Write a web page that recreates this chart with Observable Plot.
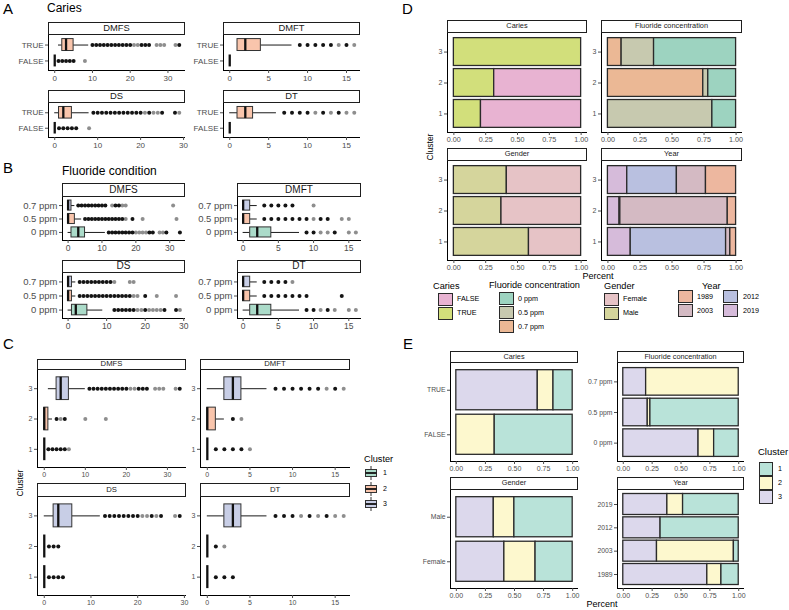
<!DOCTYPE html>
<html><head><meta charset="utf-8">
<script src="https://cdn.jsdelivr.net/npm/d3@7"></script>
<script src="https://cdn.jsdelivr.net/npm/@observablehq/plot@0.6"></script>
<style>
body{margin:0;background:#fff;}
#fig{position:relative;width:789px;height:610px;overflow:hidden;background:#fff;font-family:"Liberation Sans",Arial,Helvetica,sans-serif;}
.strip{position:absolute;box-sizing:border-box;border:1.3px solid #1e1e1e;background:#fff;text-align:center;color:#1a1a1a;white-space:nowrap;}
.key{position:absolute;box-sizing:border-box;border:1.5px solid #2a2a2a;}
</style></head><body><div id="fig"></div>
<script>
// ---------------- DATA ----------------
const vars = ["DMFS", "DMFT", "DS", "DT"];
const varMax = [33, 16, 29, 16];
const varTicks = [[0, 10, 20, 30], [0, 5, 10, 15], [0, 10, 20, 30], [0, 5, 10, 15]];

// Panel A : caries (levels bottom -> top)
const cariesLevels = ["FALSE", "TRUE"];
// [variable, level, lower whisker, q1, median, q3, upper whisker]
const cariesBox = [
  ["DMFS", "TRUE", 1, 2, 3, 5, 9], ["DMFS", "FALSE", 0, 0, 0, 0, 0],
  ["DMFT", "TRUE", 1, 1, 2, 4, 8], ["DMFT", "FALSE", 0, 0, 0, 0, 0],
  ["DS", "TRUE", 0, 1, 2, 4, 8], ["DS", "FALSE", 0, 0, 0, 0, 0],
  ["DT", "TRUE", 0, 1, 2, 3, 6], ["DT", "FALSE", 0, 0, 0, 0, 0]
];
const cariesOutDark = [
  ["DMFS", "TRUE", [10, 11, 12, 13, 14, 15, 16, 17, 18, 19, 20, 23, 24, 25, 33]],
  ["DMFS", "FALSE", [1, 2, 3, 4, 5]],
  ["DMFT", "TRUE", [9, 10, 11, 12, 13, 15]],
  ["DS", "TRUE", [9, 10, 11, 12, 13, 14, 15, 16, 17, 18, 19, 20, 22, 25, 28]],
  ["DS", "FALSE", [1, 2, 3, 4, 5]],
  ["DT", "TRUE", [7, 8, 9, 10, 12, 14]]
];
const cariesOutLight = [
  ["DMFS", "TRUE", [21, 22, 27, 28, 29, 32]],
  ["DMFS", "FALSE", [8]],
  ["DMFT", "TRUE", [14, 16]],
  ["DS", "TRUE", [21, 23, 24, 29]],
  ["DS", "FALSE", [8]],
  ["DT", "TRUE", [11, 13, 15, 16]]
];

// Panel B : fluoride condition
const fluorLevels = ["0 ppm", "0.5 ppm", "0.7 ppm"];
const fluorBox = [
  ["DMFS", "0.7 ppm", 0, 0, 0, 1, 2], ["DMFS", "0.5 ppm", 0, 0, 0, 2, 4], ["DMFS", "0 ppm", 0, 1, 3, 5, 11],
  ["DMFT", "0.7 ppm", 0, 0, 0, 1, 2], ["DMFT", "0.5 ppm", 0, 0, 0, 1, 2], ["DMFT", "0 ppm", 0, 1, 2, 4, 8],
  ["DS", "0.7 ppm", 0, 0, 0, 1, 2], ["DS", "0.5 ppm", 0, 0, 0, 1, 2], ["DS", "0 ppm", 0, 1, 2, 5, 9],
  ["DT", "0.7 ppm", 0, 0, 0, 1, 2], ["DT", "0.5 ppm", 0, 0, 0, 1, 2], ["DT", "0 ppm", 0, 1, 2, 4, 8]
];
const fluorOutDark = [
  ["DMFS", "0.7 ppm", [3, 4, 5, 6, 7, 8, 9, 10, 11, 14, 15]],
  ["DMFS", "0.5 ppm", [5, 6, 7, 8, 9, 10, 11, 12, 13, 14, 15, 16, 19]],
  ["DMFS", "0 ppm", [12, 13, 14, 15, 16, 17, 18, 19, 24, 25, 29, 33]],
  ["DMFT", "0.7 ppm", [3, 4, 5, 6, 7]],
  ["DMFT", "0.5 ppm", [3, 4, 5, 6, 7, 8, 9, 11, 12]],
  ["DMFT", "0 ppm", [9, 10, 13]],
  ["DS", "0.7 ppm", [3, 4, 5, 6, 7, 8, 9, 10, 11]],
  ["DS", "0.5 ppm", [3, 4, 5, 6, 7, 8, 9, 10, 11, 12, 13, 14, 15, 16, 20]],
  ["DS", "0 ppm", [12, 13, 14, 15, 16, 17, 20, 25, 28]],
  ["DT", "0.7 ppm", [3, 4, 5, 6]],
  ["DT", "0.5 ppm", [3, 4, 5, 6, 7, 8, 9, 14]],
  ["DT", "0 ppm", [9, 10, 12]]
];
const fluorOutLight = [
  ["DMFS", "0.7 ppm", [13, 16, 17, 31]],
  ["DMFS", "0.5 ppm", [17, 22, 32]],
  ["DMFS", "0 ppm", [20, 21, 22, 23, 27, 28]],
  ["DMFT", "0.7 ppm", [10]],
  ["DMFT", "0.5 ppm", [10, 14, 15]],
  ["DMFT", "0 ppm", [11, 12, 15, 16]],
  ["DS", "0.7 ppm", [12, 16, 17]],
  ["DS", "0.5 ppm", [17, 18, 23, 28]],
  ["DS", "0 ppm", [18, 19, 21, 22, 23, 24, 29]],
  ["DT", "0.7 ppm", [7]],
  ["DT", "0 ppm", [11, 13, 15, 16]]
];

// Panel C : clusters
const clusterLevels = ["1", "2", "3"];
const clusterBox = [
  ["DMFS", "3", 1, 3, 4, 6, 10], ["DMFS", "2", 0, 0, 0, 1, 2], ["DMFS", "1", 0, 0, 0, 0, 0],
  ["DMFT", "3", 0, 2, 3, 4, 7], ["DMFT", "2", 0, 0, 0, 1, 2], ["DMFT", "1", 0, 0, 0, 0, 0],
  ["DS", "3", 0, 2, 3, 6, 12], ["DS", "2", 0, 0, 0, 0, 0], ["DS", "1", 0, 0, 0, 0, 0],
  ["DT", "3", 0, 2, 3, 4, 7], ["DT", "2", 0, 0, 0, 0, 0], ["DT", "1", 0, 0, 0, 0, 0]
];
const clusterOutDark = [
  ["DMFS", "3", [11, 12, 13, 14, 15, 16, 17, 18, 19, 20, 23, 24, 25, 33]],
  ["DMFS", "2", [3, 5]],
  ["DMFS", "1", [1, 2, 3, 4, 5]],
  ["DMFT", "3", [8, 9, 10, 11, 12, 13, 15]],
  ["DMFT", "2", [3]],
  ["DMFT", "1", [1, 2, 3, 4]],
  ["DS", "3", [13, 14, 15, 16, 17, 18, 19, 20, 23, 25, 29]],
  ["DS", "2", [1, 2, 3]],
  ["DS", "1", [1, 2, 3, 4]],
  ["DT", "3", [8, 9, 10, 12, 14]],
  ["DT", "2", [1]],
  ["DT", "1", [1, 2, 3]]
];
const clusterOutLight = [
  ["DMFS", "3", [21, 22, 27, 28, 29, 32]],
  ["DMFS", "2", [4, 10, 15]],
  ["DMFS", "1", [6]],
  ["DMFT", "3", [14, 16]],
  ["DMFT", "2", [4]],
  ["DMFT", "1", [5]],
  ["DS", "3", [21, 22, 24, 28]],
  ["DT", "3", [11, 13, 15, 16]],
  ["DT", "2", [2]]
];

// Panel D : composition of each cluster (rows = clusters 1,2,3; shares left -> right)
const dCariesOrder = ["TRUE", "FALSE"];
const dCariesShare = [[0.213, 0.787], [0.317, 0.683], [1.0, 0.0]];
const dFluorOrder = ["0.7 ppm", "0.5 ppm", "0 ppm"];
const dFluorShare = [[0.0, 0.815, 0.185], [0.744, 0.039, 0.217], [0.107, 0.253, 0.640]];
const dGenderOrder = ["Male", "Female"];
const dGenderShare = [[0.590, 0.410], [0.374, 0.626], [0.416, 0.584]];
const dYearOrder = ["2019", "2012", "2003", "1989"];
const dYearShare = [[0.178, 0.744, 0.033, 0.045], [0.091, 0.006, 0.838, 0.065], [0.151, 0.387, 0.227, 0.235]];

// Panel E : cluster share within each group (shares for clusters 3, 2, 1 left -> right)
const eClusterOrder = ["3", "2", "1"];
const eCariesLevels = ["FALSE", "TRUE"];
const eCariesShare = [[0.0, 0.330, 0.670], [0.700, 0.135, 0.165]];
const eFluorLevels = ["0 ppm", "0.5 ppm", "0.7 ppm"];
const eFluorShare = [[0.652, 0.135, 0.213], [0.212, 0.023, 0.765], [0.198, 0.802, 0.0]];
const eGenderLevels = ["Female", "Male"];
const eGenderShare = [[0.413, 0.268, 0.319], [0.322, 0.177, 0.501]];
const eYearLevels = ["1989", "2003", "2012", "2019"];
const eYearShare = [[0.728, 0.122, 0.150], [0.292, 0.666, 0.042], [0.323, 0.0, 0.677], [0.382, 0.136, 0.482]];

// ---------------- STYLE ----------------
const FONT = '"Liberation Sans", Arial, Helvetica, sans-serif';
const boxFill3 = ["#ABDBC9", "#F9C5AC", "#C8CEE6"];
const cariesColors = {FALSE: "#E8B3D2", TRUE: "#D2DF7B"};
const fluorColors = {"0 ppm": "#9DD3C0", "0.5 ppm": "#C7C9AF", "0.7 ppm": "#EBB895"};
const genderColors = {Female: "#E6C3C6", Male: "#D5D59C"};
const yearColors = {"1989": "#EDB79F", "2003": "#D4BAC3", "2012": "#B9C0E0", "2019": "#D6BBDA"};
const clusterColors = {"1": "#B9E3D9", "2": "#FDF8CE", "3": "#DCD8EC"};

const fig = document.getElementById("fig");
function place(el, left, top) {
  el.style.position = "absolute"; el.style.left = left + "px"; el.style.top = top + "px";
  fig.appendChild(el);
}
function txt(s, x, y, size, anchor = "start", rotate = 0, color = "#000") {
  const d = document.createElement("div");
  d.textContent = s;
  const tx = anchor === "start" ? 0 : anchor === "middle" ? -50 : -100;
  Object.assign(d.style, {position: "absolute", left: x + "px", top: y + "px", fontSize: size + "px",
    lineHeight: "1.15", whiteSpace: "nowrap", color,
    transform: `translate(${tx}%, -50%)` + (rotate ? ` rotate(${rotate}deg)` : "")});
  if (rotate) d.style.transformOrigin = "50% 50%";
  fig.appendChild(d);
}
function strip(s, x0, x1, y0, y1, fs) {
  const d = document.createElement("div");
  d.className = "strip"; d.textContent = s;
  Object.assign(d.style, {left: x0 + "px", top: y0 + "px", width: (x1 - x0) + "px", height: (y1 - y0) + "px",
    fontSize: fs + "px", lineHeight: (y1 - y0 - 2.6) + "px"});
  fig.appendChild(d);
}

const ML = 60, MR = 8, MT = 6, MB = 26;

function expandOut(list, v, shade, levels) {
  const rows = [];
  for (const [vv, g, vals] of list) if (vv === v) for (const x of vals) rows.push({g, i: levels.indexOf(g) + 1, x, shade});
  return rows;
}

function boxFacet(v, levels, boxes, dark, light, fillOf, [x0, x1], [y0, y1], fx, fy) {
  const vi = vars.indexOf(v), max = varMax[vi], n = levels.length;
  const rows = boxes.filter(d => d[0] === v).map(([vv, g, lo, q1, med, q3, hi]) =>
    ({g, i: levels.indexOf(g) + 1, lo, q1, med, q3, hi}));
  const pts = [...expandOut(light, v, "light", levels), ...expandOut(dark, v, "dark", levels)];
  const xmin = -0.05 * max;
  const svg = Plot.plot({
    width: x1 - x0 + ML + MR, height: y1 - y0 + MT + MB,
    marginLeft: ML, marginRight: MR, marginTop: MT, marginBottom: MB,
    style: {background: "transparent", fontFamily: FONT, overflow: "visible"},
    x: {domain: [xmin, 1.05 * max]},
    y: {domain: [0.4, n + 0.6]},
    color: {type: "identity"},
    marks: [
      Plot.ruleY(rows, {y: "i", x1: "lo", x2: "q1", stroke: "#1a1a1a", strokeWidth: 1}),
      Plot.ruleY(rows, {y: "i", x1: "q3", x2: "hi", stroke: "#1a1a1a", strokeWidth: 1}),
      Plot.dot(pts, {x: "x", y: "i", r: 2, fill: d => d.shade === "dark" ? "#141414" : "#8e8e8e"}),
      Plot.rect(rows, {x1: "q1", x2: "q3", y1: d => d.i - 0.375, y2: d => d.i + 0.375,
        fill: d => fillOf(d.g), stroke: "#333", strokeWidth: 1}),
      Plot.ruleX(rows, {x: "med", y1: d => d.i - 0.375, y2: d => d.i + 0.375, stroke: "#111", strokeWidth: 2.3}),
      Plot.ruleX([xmin], {stroke: "#000"}),
      Plot.ruleY([0.4], {stroke: "#000"}),
      Plot.axisX(varTicks[vi], {tickSize: 3, tickPadding: 1.5, fontSize: fx, color: "#4d4d4d", label: null}),
      Plot.axisY(d3.range(1, n + 1), {tickSize: 3, tickPadding: 2, fontSize: fy, color: "#4d4d4d",
        tickFormat: i => levels[i - 1], label: null})
    ]
  });
  place(svg, x0 - ML, y0 - MT);
}

function barFacet(levels, order, shares, colorOf, [x0, x1], [y0, y1], fx, fy) {
  const rows = [];
  levels.forEach((lev, k) => {
    const tot = d3.sum(shares[k]);
    let acc = 0;
    order.forEach((key, j) => {
      const s = shares[k][j];
      if (s > 0) rows.push({i: k + 1, key, x1: acc / tot, x2: (acc + s) / tot});
      acc += s;
    });
  });
  const n = levels.length;
  const svg = Plot.plot({
    width: x1 - x0 + ML + MR, height: y1 - y0 + MT + MB,
    marginLeft: ML, marginRight: MR, marginTop: MT, marginBottom: MB,
    style: {background: "transparent", fontFamily: FONT, overflow: "visible"},
    x: {domain: [-0.05, 1.05]},
    y: {domain: [0.4, n + 0.6]},
    color: {type: "identity"},
    marks: [
      Plot.rect(rows, {x1: "x1", x2: "x2", y1: d => d.i - 0.45, y2: d => d.i + 0.45,
        fill: d => colorOf[d.key], stroke: "#2a2a2a", strokeWidth: 1.3}),
      Plot.ruleX([-0.05], {stroke: "#000"}),
      Plot.ruleY([0.4], {stroke: "#000"}),
      Plot.axisX([0, 0.25, 0.5, 0.75, 1], {tickFormat: d3.format(".2f"), tickSize: 3, tickPadding: 1.5,
        fontSize: fx, color: "#4d4d4d", label: null}),
      Plot.axisY(d3.range(1, n + 1), {tickSize: 3, tickPadding: 2, fontSize: fy, color: "#4d4d4d",
        tickFormat: i => levels[i - 1], label: null})
    ]
  });
  place(svg, x0 - ML, y0 - MT);
}

// ---------------- PANEL A ----------------
const aCols = [[48, 185], [223, 360]], aRows = [[35, 70], [103, 137]], aStrips = [[22, 35], [90, 103]];
vars.forEach((v, k) => {
  const c = aCols[k % 2], r = aRows[Math.floor(k / 2)];
  boxFacet(v, cariesLevels, cariesBox, cariesOutDark, cariesOutLight, () => boxFill3[1], c, r, 8, 8);
});
// ---------------- PANEL B ----------------
const bCols = [[62, 185], [237, 361]], bRows = [[197, 240], [273, 318]], bStrips = [[183, 197], [260, 273]];
vars.forEach((v, k) => {
  const c = bCols[k % 2], r = bRows[Math.floor(k / 2)];
  boxFacet(v, fluorLevels, fluorBox, fluorOutDark, fluorOutLight, g => boxFill3[fluorLevels.indexOf(g)], c, r, 8.5, 9.5);
});
// ---------------- PANEL C ----------------
const cCols = [[37, 186], [200, 350]], cRows = [[370, 467], [497, 595]], cStrips = [[359, 370], [483, 497]];
vars.forEach((v, k) => {
  const c = cCols[k % 2], r = cRows[Math.floor(k / 2)];
  boxFacet(v, clusterLevels, clusterBox, clusterOutDark, clusterOutLight, g => boxFill3[clusterLevels.indexOf(g)], c, r, 7, 7);
});
// ---------------- PANEL D ----------------
const dCols = [[447, 587], [601, 742]], dRows = [[33, 132], [161, 260]], dStrips = [[20, 33], [148, 161]];
barFacet(clusterLevels, dCariesOrder, dCariesShare, cariesColors, dCols[0], dRows[0], 7.2, 7);
barFacet(clusterLevels, dFluorOrder, dFluorShare, fluorColors, dCols[1], dRows[0], 7.2, 7);
barFacet(clusterLevels, dGenderOrder, dGenderShare, genderColors, dCols[0], dRows[1], 7.2, 7);
barFacet(clusterLevels, dYearOrder, dYearShare, yearColors, dCols[1], dRows[1], 7.2, 7);
// ---------------- PANEL E ----------------
const eCols = [[450, 578], [617, 744]], eRows = [[363, 461], [490, 588]], eStrips = [[351, 363], [477, 490]];
barFacet(eCariesLevels, eClusterOrder, eCariesShare, clusterColors, eCols[0], eRows[0], 7, 6.8);
barFacet(eFluorLevels, eClusterOrder, eFluorShare, clusterColors, eCols[1], eRows[0], 7, 6.8);
barFacet(eGenderLevels, eClusterOrder, eGenderShare, clusterColors, eCols[0], eRows[1], 7, 6.8);
barFacet(eYearLevels, eClusterOrder, eYearShare, clusterColors, eCols[1], eRows[1], 7, 6.8);

// ---------------- STRIPS ----------------
vars.forEach((v, k) => {
  const i = k % 2, j = Math.floor(k / 2);
  strip(v, aCols[i][0], aCols[i][1], aStrips[j][0], aStrips[j][1], 9.4);
  strip(v, bCols[i][0], bCols[i][1], bStrips[j][0], bStrips[j][1], 10);
  strip(v, cCols[i][0], cCols[i][1], cStrips[j][0], cStrips[j][1], 7.7);
});
const facetNames = ["Caries", "Fluoride concentration", "Gender", "Year"];
facetNames.forEach((s, k) => {
  const i = k % 2, j = Math.floor(k / 2);
  strip(s, dCols[i][0], dCols[i][1], dStrips[j][0], dStrips[j][1], 7.4);
  strip(s, eCols[i][0], eCols[i][1], eStrips[j][0], eStrips[j][1], 7.3);
});

// ---------------- TITLES ----------------
txt("A", 3, 9, 15); txt("B", 3, 168, 15); txt("C", 3, 344, 15); txt("D", 402, 9, 15); txt("E", 403, 344, 15);
txt("Caries", 47, 9, 12);
txt("Fluoride condition", 62, 172, 12);
txt("Cluster", 21, 483, 8.5, "middle", -90);
txt("Cluster", 431, 147, 8.5, "middle", -90);
txt("Percent", 598, 276, 9, "middle");
txt("Percent", 602, 604, 9, "middle");

// ---------------- LEGENDS ----------------
function key(color, x, y, w, h) {
  const d = document.createElement("div"); d.className = "key";
  Object.assign(d.style, {left: x + "px", top: y + "px", width: w + "px", height: h + "px", background: color});
  fig.appendChild(d);
}
// C legend (boxplot glyphs)
txt("Cluster", 364, 459, 9.2);
clusterLevels.forEach((c, k) => {
  const y = 473 + k * 15.5;
  const s = `<svg xmlns="http://www.w3.org/2000/svg" width="14" height="14">
    <line x1="7" y1="0" x2="7" y2="3.5" stroke="#333" stroke-width="1"/>
    <rect x="1.5" y="3.5" width="11" height="7" fill="${boxFill3[k]}" stroke="#333" stroke-width="1"/>
    <line x1="1.5" y1="7" x2="12.5" y2="7" stroke="#111" stroke-width="1.8"/>
    <line x1="7" y1="10.5" x2="7" y2="14" stroke="#333" stroke-width="1"/></svg>`;
  const holder = document.createElement("div");
  holder.innerHTML = s;
  place(holder.firstElementChild, 364, y - 7);
  txt(c, 383, y, 7);
});
// D legends
txt("Caries", 433, 286, 9.2);
["FALSE", "TRUE"].forEach((c, k) => { key(cariesColors[c], 438, 292.5 + k * 14, 14.5, 13); txt(c, 457, 299 + k * 14, 7.2); });
txt("Fluoride concentration", 489, 285, 9.2);
fluorLevels.forEach((c, k) => { key(fluorColors[c], 499, 292 + k * 14.2, 14.5, 13); txt(c, 518, 298.5 + k * 14.2, 7.2); });
txt("Gender", 604, 286, 9.2);
["Female", "Male"].forEach((c, k) => { key(genderColors[c], 604, 292.5 + k * 14, 14.5, 13); txt(c, 623, 299 + k * 14, 7.2); });
txt("Year", 702, 286, 9.2);
["1989", "2003", "2012", "2019"].forEach((c, k) => {
  const col = Math.floor(k / 2), row = k % 2;
  key(yearColors[c], 678 + col * 45, 290 + row * 14, 14.5, 13);
  txt(c, 697 + col * 46, 296.5 + row * 14, 7.2);
});
// E legend
txt("Cluster", 758, 452, 9.5);
clusterLevels.forEach((c, k) => { key(clusterColors[c], 759, 462 + k * 14, 13.5, 13.5); txt(c, 778, 468.5 + k * 14, 7.2); });
</script></body></html>
